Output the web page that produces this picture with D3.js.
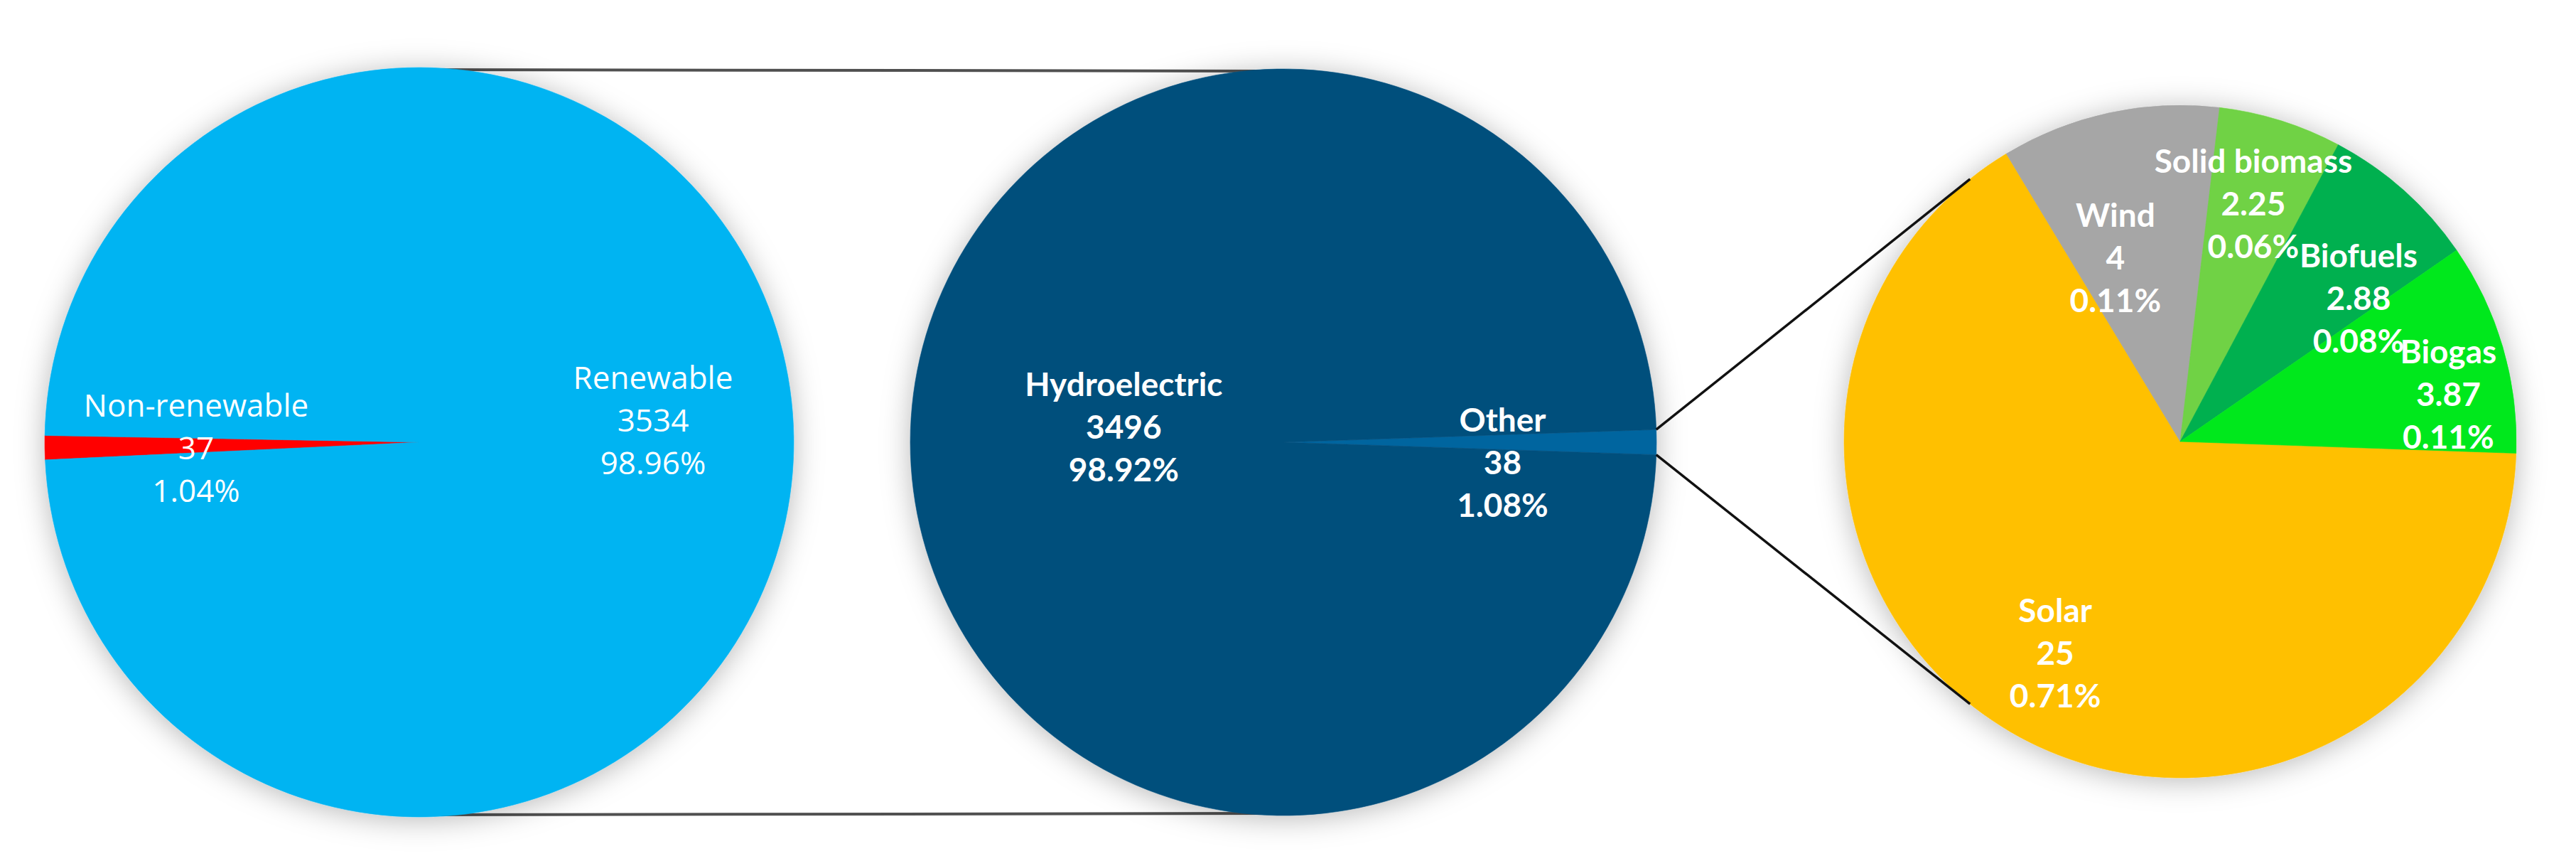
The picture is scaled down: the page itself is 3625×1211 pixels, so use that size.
<!DOCTYPE html>
<html><head><meta charset="utf-8">
<script src="https://cdn.jsdelivr.net/npm/d3@7"></script>
<style>body{margin:0;background:#fff}svg{display:block}</style>
</head><body><svg id="c" width="3625" height="1211"></svg>
<script>
// ---------- data ----------
const totalCategories = ["Non-renewable", "Renewable"];
const totalValues = [37, 3534];
const renewCategories = ["Other", "Hydroelectric"];
const renewValues = [38, 3496];
const otherCategories = ["Solar", "Wind", "Solid biomass", "Biofuels", "Biogas"];
const otherValues = [25, 4, 2.25, 2.88, 3.87];

// ---------- styles ----------
const colors = {
  "Non-renewable": "#ff0000", "Renewable": "#00b4f2",
  "Other": "#04659f", "Hydroelectric": "#004f7c",
  "Solar": "#ffc000", "Wind": "#a6a6a6", "Solid biomass": "#6fd244",
  "Biofuels": "#00b04f", "Biogas": "#00e81f"
};
// label placement: radius fraction along slice mid-angle, plus angle nudge (deg)
const labelPlacement = {
  "Non-renewable": {rf: 0.596, da: -0.6}, "Renewable": {rf: 0.627, da: -4.5},
  "Hydroelectric": {rf: 0.43, da: 5.6}, "Other": {rf: 0.59, da: 5.2},
  "Solar": {rf: 0.73, da: 0.2}, "Wind": {rf: 0.58, da: -7.2},
  "Solid biomass": {rf: 0.74, da: -0.3}, "Biofuels": {rf: 0.68, da: 9.6},
  "Biogas": {rf: 0.81, da: 6.4}
};

const W = 3625, H = 1211;
const svg = d3.select("#c");
svg.append("rect").attr("width", W).attr("height", H).attr("fill", "#fff");
const defs = svg.append("defs");
const f = defs.append("filter").attr("id", "sh")
  .attr("x", "-20%").attr("y", "-20%").attr("width", "140%").attr("height", "140%");
f.append("feDropShadow").attr("dx", 0).attr("dy", 4).attr("stdDeviation", 20)
  .attr("flood-color", "#000").attr("flood-opacity", 0.28);

const rad = d => d * Math.PI / 180;
const pt = (cx, cy, r, a) => [cx + r * Math.sin(a), cy - r * Math.cos(a)];

const P1 = {cx: 590, cy: 622, r: 527, start: 267.3};
const P2 = {cx: 1806, cy: 622, r: 525, start: 88.06};
const P3 = {cx: 3068, cy: 621, r: 473, start: 92.0};

// connectors left -> middle (behind pies)
const connG = svg.append("g");
[-1, 1].forEach(s => {
  connG.append("line")
    .attr("x1", P1.cx).attr("x2", P2.cx)
    .attr("y1", P1.cy + s * (P1.r - 3)).attr("y2", P2.cy + s * (P2.r - 3))
    .attr("stroke", "#505050").attr("stroke-width", 4);
});

function drawPie(P, cats, vals, base, font, weight, fs) {
  const data = cats.map((c, i) => ({c, v: vals[i]}));
  const pie = d3.pie().sort(null).value(d => d.v)
    .startAngle(rad(P.start)).endAngle(rad(P.start) + 2 * Math.PI);
  const arcs = pie(data);
  const arc = d3.arc().innerRadius(0).outerRadius(P.r);
  const g = svg.append("g").attr("transform", `translate(${P.cx},${P.cy})`);
  g.append("g").attr("filter", "url(#sh)")
    .selectAll("path").data(arcs).join("path")
    .attr("d", arc).attr("fill", d => colors[d.data.c])
    .attr("stroke", d => colors[d.data.c]).attr("stroke-width", 0.6);
  const lg = g.append("g").attr("font-family", font).attr("font-weight", weight)
    .attr("font-size", fs).attr("fill", "#fff").attr("text-anchor", "middle");
  arcs.forEach(d => {
    const lp = labelPlacement[d.data.c];
    const mid = (d.startAngle + d.endAngle) / 2 + rad(lp.da);
    const [x, y] = pt(0, 0, lp.rf * P.r, mid);
    const lines = [d.data.c, String(d.data.v), (d.data.v / base * 100).toFixed(2) + "%"];
    lines.forEach((t, i) => {
      lg.append("text").attr("x", x).attr("y", y + (i - 1) * 60 + 0.36 * fs).text(t);
    });
  });
  return arcs;
}

const totalSum = d3.sum(totalValues);
const renewSum = d3.sum(renewValues);
drawPie(P1, totalCategories, totalValues, totalSum, "'Open Sans', sans-serif", 400, 44);
const arcs2 = drawPie(P2, renewCategories, renewValues, renewSum, "Lato, sans-serif", 700, 46);
drawPie(P3, otherCategories, otherValues, renewSum, "Lato, sans-serif", 700, 46);

// connectors middle "Other" slice -> right pie
const oth = arcs2.find(d => d.data.c === "Other");
const ends = [rad(321.3), rad(218.7)];
[oth.startAngle, oth.endAngle].forEach((a, i) => {
  const [x1, y1] = pt(P2.cx, P2.cy, P2.r, a);
  const [x2, y2] = pt(P3.cx, P3.cy, P3.r, ends[i]);
  svg.append("line").attr("x1", x1).attr("y1", y1).attr("x2", x2).attr("y2", y2)
    .attr("stroke", "#111").attr("stroke-width", 3.5);
});
</script></body></html>
